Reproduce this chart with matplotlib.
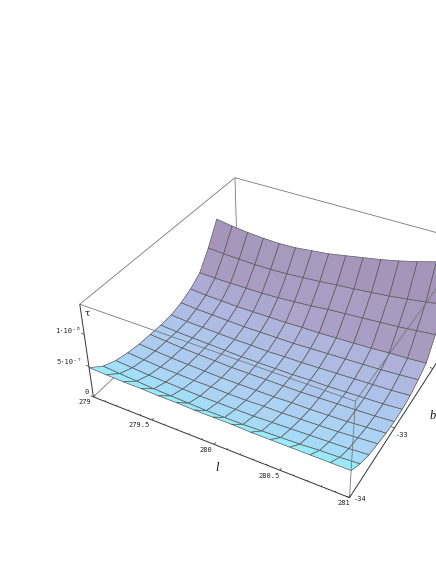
import numpy as np
import matplotlib
matplotlib.use("Agg")
import matplotlib.pyplot as plt
from matplotlib.colors import LinearSegmentedColormap
from mpl_toolkits.mplot3d.art3d import Line3DCollection

# surface grid, tau in units of 1e-7
l_vals = [279.0, 279.143, 279.286, 279.429, 279.571, 279.714, 279.857, 280.0,
          280.143, 280.286, 280.429, 280.571, 280.714, 280.857, 281.0]
b_vals = [-34.0, -33.805, -33.61, -33.415, -33.22, -33.025, -32.83,
          -32.635, -32.44, -32.245, -32.05, -31.855, -31.66]
tau = [
    [4.8, 4.7, 4.6, 4.6, 4.5, 4.5, 4.4, 4.4, 4.4, 4.3, 4.3, 4.3, 4.3, 4.3, 4.3],
    [3.2, 3.0, 2.8, 2.6, 2.5, 2.4, 2.3, 2.3, 2.3, 2.4, 2.5, 2.6, 2.8, 2.9, 3.1],
    [2.3, 2.1, 1.9, 1.8, 1.7, 1.6, 1.6, 1.6, 1.6, 1.7, 1.8, 1.9, 2.0, 2.1, 2.3],
    [1.8, 1.6, 1.4, 1.3, 1.2, 1.2, 1.1, 1.1, 1.2, 1.2, 1.3, 1.4, 1.5, 1.7, 1.9],
    [1.5, 1.3, 1.1, 1.0, 0.9, 0.8, 0.8, 0.8, 0.8, 0.9, 0.9, 1.0, 1.1, 1.3, 1.5],
    [1.4, 1.2, 1.0, 0.9, 0.8, 0.7, 0.7, 0.7, 0.7, 0.7, 0.8, 0.9, 1.0, 1.1, 1.3],
    [1.3, 1.1, 1.0, 0.9, 0.8, 0.7, 0.7, 0.7, 0.7, 0.8, 0.8, 0.9, 1.0, 1.1, 1.3],
    [1.4, 1.2, 1.1, 1.0, 0.9, 0.9, 0.8, 0.9, 0.9, 1.0, 1.1, 1.2, 1.3, 1.4, 1.6],
    [1.9, 1.7, 1.6, 1.5, 1.4, 1.4, 1.4, 1.4, 1.5, 1.6, 1.7, 1.8, 1.9, 2.1, 2.3],
    [2.7, 2.5, 2.4, 2.3, 2.3, 2.3, 2.3, 2.4, 2.4, 2.5, 2.6, 2.7, 2.9, 3.0, 3.2],
    [4.0, 3.9, 3.9, 3.9, 3.9, 4.0, 4.2, 4.4, 4.7, 4.9, 5.1, 5.3, 5.5, 5.8, 6.1],
    [6.8, 6.6, 6.5, 6.4, 6.4, 6.5, 6.7, 6.9, 7.2, 7.4, 7.7, 8.0, 8.4, 8.8, 9.3],
    [10.3, 9.9, 9.6, 9.4, 9.3, 9.4, 9.7, 10.0, 10.5, 11.0, 11.5, 12.1, 12.8, 13.6, 14.5],
]

l_lim = (279.0, 281.0)
b_lim = (-34.0, -31.25)
z_lim = (0.0, 14.5)

l_ticks = [279, 279.5, 280, 280.5, 281]
l_minor = [279.1, 279.2, 279.3, 279.4, 279.6, 279.7, 279.8, 279.9,
           280.1, 280.2, 280.3, 280.4, 280.6, 280.7, 280.8, 280.9]
b_ticks = [-34, -33, -32]
z_ticks = [0, 5, 10]

# box corners (0/1 in l, b, z) and where they land in the picture
corner_box = [(0, 0, 0), (1, 0, 0), (0, 0, 1), (1, 0, 1), (0, 1, 1), (1, 1, 1), (0, 1, 0), (1, 1, 0)]
corner_px = [(93, 397), (350, 497), (80, 304), (355, 402), (235, 178), (470, 241), (237.5, 261), (458, 330)]


def fit_camera(box, px):
    rows = []
    for (u, v, w), (x, y) in zip(box, px):
        rows.append([u, v, w, 1, 0, 0, 0, 0, -x*u, -x*v, -x*w, -x])
        rows.append([0, 0, 0, 0, u, v, w, 1, -y*u, -y*v, -y*w, -y])
    P = np.linalg.svd(np.array(rows, dtype=float))[2][-1].reshape(3, 4)
    if P[2] @ np.array([0.5, 0.5, 0.5, 1]) < 0:
        P = -P
    # data units to unit box
    N = np.array([[1/(l_lim[1]-l_lim[0]), 0, 0, -l_lim[0]/(l_lim[1]-l_lim[0])],
                  [0, 1/(b_lim[1]-b_lim[0]), 0, -b_lim[0]/(b_lim[1]-b_lim[0])],
                  [0, 0, 1/(z_lim[1]-z_lim[0]), 0],
                  [0, 0, 0, 1]])
    P = P @ N
    P = P / (P[2] @ np.array([280, -32.6, 7, 1]))
    return np.array([P[0], P[1], [0, 0, 0, -1], P[2]])


M = fit_camera(corner_box, corner_px)

fig = plt.figure(figsize=(4.36, 5.64), dpi=100, facecolor="white")
ax = fig.add_axes([0, 0, 1, 1], projection="3d")
ax.apply_aspect = lambda position=None: None
ax.get_proj = lambda: M
ax.set_axis_off()
ax.computed_zorder = False
ax.viewLim.intervalx = (0, 436)
ax.viewLim.intervaly = (564, 0)

L, B = np.meshgrid(l_vals, b_vals)
Z = np.array(tau)

# shade cells by how much they tilt along b
s_lo, s_hi = -1.8, 3.5
stops = [(-1.8, "#98ecfa"), (-1.2, "#9ce6f9"), (-0.6, "#a8d8f7"), (0.0, "#aec8ee"), (0.8, "#afb6df"),
         (1.4, "#ada9d1"), (2.8, "#a99abf"), (3.5, "#a595ba")]
shade = LinearSegmentedColormap.from_list("shade", [((s-s_lo)/(s_hi-s_lo), c) for s, c in stops])
slope_b = np.diff(Z, axis=0)[:, :-1]
colors = shade(np.clip((slope_b - s_lo) / (s_hi - s_lo), 0, 1))

l0, l1 = l_lim
b0, b1 = b_lim
z0, z1 = z_lim


def add_lines(segs, color, lw, zorder):
    ax.add_collection3d(Line3DCollection(segs, colors=color, linewidths=lw, zorder=zorder))


# back of the box, behind the surface
add_lines([[(l0, b1, z1), (l1, b1, z1)], [(l0, b0, z1), (l0, b1, z1)],
           [(l0, b1, z0), (l0, b1, z1)], [(l0, b0, z0), (l0, b1, z0)],
           [(l0, b1, z0), (l1, b1, z0)]], "#777777", 0.6, 1)

ax.plot_surface(L, B, Z, facecolors=colors, edgecolor="#5a5a5a", linewidth=0.5,
                rstride=1, cstride=1, shade=False, antialiased=True, zorder=2)

# front of the box, over the surface
add_lines([[(l0, b0, z1), (l1, b0, z1)], [(l1, b0, z0), (l1, b0, z1)],
           [(l1, b0, z1), (l1, b1, z1)]], "#777777", 0.6, 3)
add_lines([[(l0, b0, z0), (l1, b0, z0)], [(l1, b0, z0), (l1, b1, z0)],
           [(l0, b0, z0), (l0, b0, z1)]], "#333333", 0.7, 3)

# tick marks
ticks = [[(t, b0, z0), (t, b0+0.03, z0)] for t in l_ticks]
ticks += [[(t, b0, z0), (t, b0+0.015, z0)] for t in l_minor]
ticks += [[(l1, t, z0), (l1-0.025, t, z0)] for t in b_ticks]
ticks += [[(l0, b0, t), (l0-0.025, b0, t)] for t in z_ticks]
add_lines(ticks, "#333333", 0.5, 3)


def px_text(x, y, s, **kw):
    fig.text(x/436, 1-y/564, s, ha="center", va="center", **kw)


tick_font = dict(family="DejaVu Sans Mono", fontsize=5, color="#222222")
px_text(85, 402, "279", **tick_font)
px_text(139, 425, "279.5", **tick_font)
px_text(206, 450, "280", **tick_font)
px_text(269, 476, "280.5", **tick_font)
px_text(344, 503, "281", **tick_font)
px_text(360, 499, "-34", **tick_font)
px_text(402, 435, "-33", **tick_font)
px_text(444, 379, "-32", **tick_font)
px_text(68, 331, "1·10⁻⁶", **tick_font)
px_text(69, 362, "5·10⁻⁷", **tick_font)
px_text(87, 392, "0", **tick_font)
label_font = dict(family="Liberation Serif", style="italic", fontsize=9, color="#111111")
px_text(217, 468, "l", **label_font)
px_text(433, 416, "b", **label_font)
px_text(87, 313, "τ", family="DejaVu Serif", fontsize=7, color="#111111")

fig.savefig("out.png", dpi=100)
